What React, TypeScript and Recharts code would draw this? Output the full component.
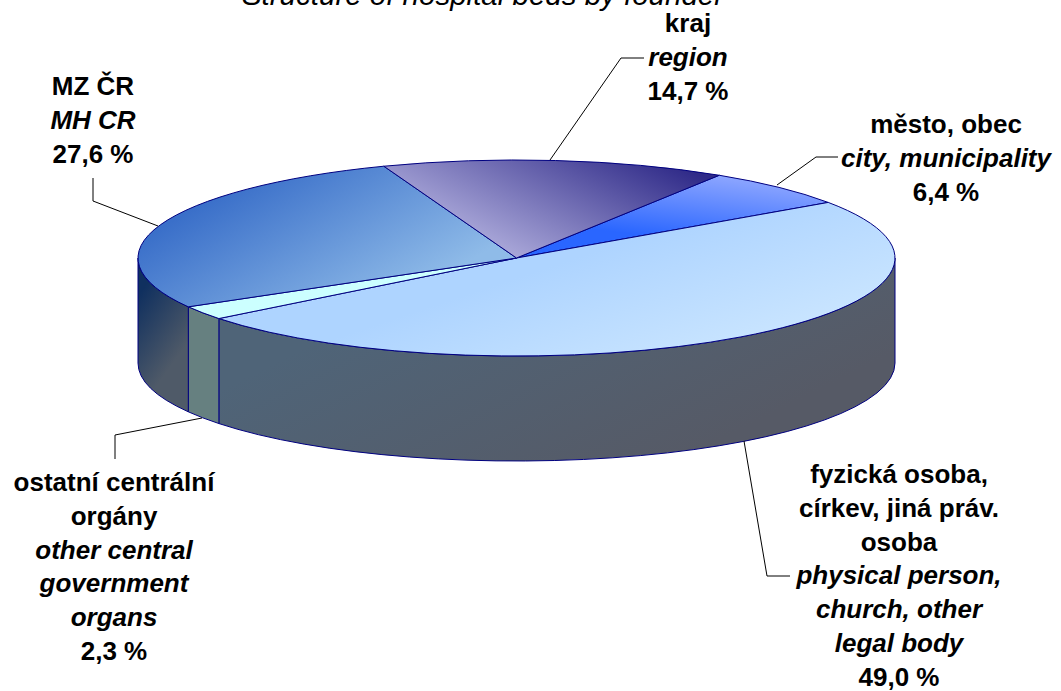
import React from "react";
import { PieChart, Pie } from "recharts";

const categories = ["město, obec", "fyzická osoba, církev, jiná práv. osoba", "ostatní centrální orgány", "MZ ČR", "kraj"];
const values = [6.4, 49.0, 2.3, 27.6, 14.7];
const labelLines: string[][] = [
  ["město, obec", "*city, municipality", "6,4 %"],
  ["fyzická osoba,", "církev, jiná práv.", "osoba", "*physical person,", "*church, other", "*legal body", "49,0 %"],
  ["ostatní centrální", "orgány", "*other central", "*government", "*organs", "2,3 %"],
  ["MZ ČR", "*MH CR", "27,6 %"],
  ["kraj", "*region", "14,7 %"],
];
const titleText = "Structure of hospital beds by founder";

const data = categories.map((name, i) => ({ name, value: values[i] }));

const CX = 516.5, CY = 258, RX = 378.5, RY = 98, DEPTH = 105;
const FONT = "'Liberation Sans', Arial, sans-serif";

type Grad = { x1: number; y1: number; x2: number; y2: number; from: string; to: string };
const topFill: Grad[] = [
  { x1: 770, y1: 170, x2: 760, y2: 250, from: "#9db0ff", to: "#2a66ff" },
  { x1: 510, y1: 280, x2: 552, y2: 406, from: "#aed4ff", to: "#c8e4ff" },
  { x1: 190, y1: 305, x2: 516, y2: 258, from: "#ccffff", to: "#ccffff" },
  { x1: 250, y1: 175, x2: 345, y2: 335, from: "#3a6fc9", to: "#8fbbe8" },
  { x1: 700, y1: 175, x2: 626, y2: 323, from: "#2f2a88", to: "#b0aedd" },
];
const wallFill: (Grad | null)[] = [
  null,
  { x1: 400, y1: 300, x2: 520, y2: 540, from: "#4f6478", to: "#565a66" },
  { x1: 190, y1: 320, x2: 218, y2: 420, from: "#668080", to: "#668080" },
  { x1: 135, y1: 300, x2: 190, y2: 340, from: "#10305f", to: "#4f5a68" },
  null,
];
const labelBoxes = [
  { x: 946, y: 133 },
  { x: 899, y: 483 },
  { x: 114, y: 491 },
  { x: 93, y: 95 },
  { x: 688, y: 32 },
];
const leaders = [
  "777,185 816,157 838,157",
  "744,441 767,576 790,576",
  "202,418 115,435 115,459",
  "93,178 93,201 158,226",
  "550,160 621,58 644,58",
];

const RAD = Math.PI / 180;

function EllipticSector(props: any) {
  const { cx, cy, outerRadius, startAngle, endAngle, index } = props;
  const rx = outerRadius;
  const ry = (outerRadius * RY) / RX;
  const p = (t: number, dy = 0) => [cx + rx * Math.cos(t * RAD), cy - ry * Math.sin(t * RAD) + dy];
  const hi = Math.max(startAngle, endAngle);
  const lo = Math.min(startAngle, endAngle);
  const [sx, sy] = p(hi);
  const [ex, ey] = p(lo);
  const large = hi - lo > 180 ? 1 : 0;
  const top = `M${cx},${cy}L${sx},${sy}A${rx},${ry} 0 ${large} 1 ${ex},${ey}Z`;
  // side wall: only the front half of the disc shows one
  let wall = "";
  const parts: [number, number][] = [];
  for (let k = -1; k <= 1; k++) {
    const a = Math.max(lo, -180 + 360 * k);
    const b = Math.min(hi, 0 + 360 * k);
    if (b > a) parts.push([a, b]);
  }
  parts.forEach(([a, b]) => {
    const [ax, ay] = p(b);
    const [bx, by] = p(a);
    const [cx2, cy2] = p(a, DEPTH);
    const [dx, dy] = p(b, DEPTH);
    wall += `M${ax},${ay}A${rx},${ry} 0 0 1 ${bx},${by}L${cx2},${cy2}A${rx},${ry} 0 0 0 ${dx},${dy}Z`;
  });
  const tg = topFill[index];
  const wg = wallFill[index];
  return (
    <g>
      <defs>
        <linearGradient id={`top${index}`} gradientUnits="userSpaceOnUse" x1={tg.x1} y1={tg.y1} x2={tg.x2} y2={tg.y2}>
          <stop offset="0" stopColor={tg.from} />
          <stop offset="1" stopColor={tg.to} />
        </linearGradient>
        {wg && (
          <linearGradient id={`wall${index}`} gradientUnits="userSpaceOnUse" x1={wg.x1} y1={wg.y1} x2={wg.x2} y2={wg.y2}>
            <stop offset="0" stopColor={wg.from} />
            <stop offset="1" stopColor={wg.to} />
          </linearGradient>
        )}
      </defs>
      {wall && <path d={wall} fill={`url(#wall${index})`} stroke="#000080" strokeWidth={1} />}
      <path d={top} fill={`url(#top${index})`} stroke="#000080" strokeWidth={1} strokeLinejoin="round" />
    </g>
  );
}

function SliceLabel(props: any) {
  const { index } = props;
  const box = labelBoxes[index];
  return (
    <g>
      <polyline points={leaders[index]} fill="none" stroke="#000" strokeWidth={1} />
      <text x={box.x} y={box.y} textAnchor="middle" fontFamily={FONT} fontSize={26} fontWeight="bold" fill="#000">
        {labelLines[index].map((l, i) => (
          <tspan key={i} x={box.x} y={box.y + i * 33.8} fontStyle={l.startsWith("*") ? "italic" : "normal"}>
            {l.replace(/^\*/, "")}
          </tspan>
        ))}
      </text>
    </g>
  );
}

export default function App() {
  return (
    <div style={{ position: "absolute", left: 0, top: 0, width: 1061, height: 691, background: "#fff" }}>
      <PieChart width={1061} height={691} margin={{ top: 0, right: 0, bottom: 0, left: 0 }}>
        <text x={483} y={5} textAnchor="middle" fontFamily={FONT} fontSize={29.5} fontStyle="italic" fill="#000">
          {titleText}
        </text>
        <Pie
          data={data}
          dataKey="value"
          nameKey="name"
          cx={CX}
          cy={CY}
          outerRadius={RX}
          innerRadius={0}
          startAngle={57.6}
          endAngle={-302.4}
          paddingAngle={0}
          isAnimationActive={false}
          shape={EllipticSector}
          label={SliceLabel}
          labelLine={false}
        />
      </PieChart>
    </div>
  );
}
